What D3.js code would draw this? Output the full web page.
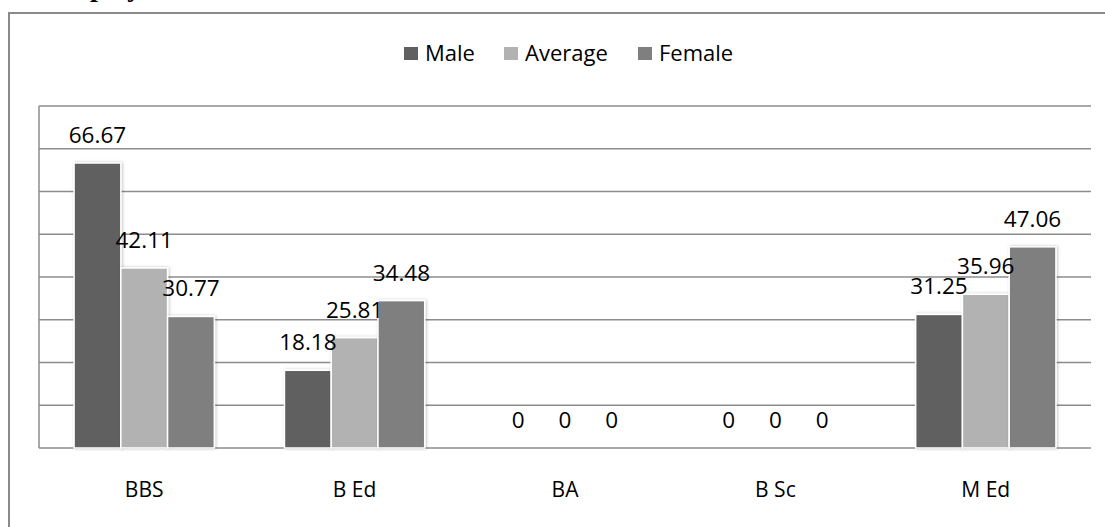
<!DOCTYPE html>
<html>
<head>
<meta charset="utf-8">
<script src="https://cdn.jsdelivr.net/npm/d3@7"></script>
<style>
  body { margin: 0; background: #fff; }
  text { font-family: "Open Sans", sans-serif; fill: #000; }
</style>
</head>
<body>
<div id="chart"></div>
<script>
// data
var categories = ["BBS", "B Ed", "BA", "B Sc", "M Ed"];
var seriesNames = ["Male", "Average", "Female"];
var male    = [66.67, 18.18, 0, 0, 31.25];
var average = [42.11, 25.81, 0, 0, 35.96];
var female  = [30.77, 34.48, 0, 0, 47.06];
var yTicks  = [0, 10, 20, 30, 40, 50, 60, 70, 80];

var colors = {Male: "#606060", Average: "#b2b2b2", Female: "#7f7f7f"};
var seriesValues = {Male: male, Average: average, Female: female};

// dimensions
var W = 1105, H = 527;
var margin = {top: 106, right: 14, bottom: 79, left: 39},
    width = W - margin.left - margin.right,
    height = H - margin.top - margin.bottom;

var svg = d3.select("#chart")
    .append("svg")
    .attr("width", W)
    .attr("height", H);

// drop shadow for bars
var defs = svg.append("defs");
var filter = defs.append("filter")
    .attr("id", "shadow")
    .attr("x", "-20%").attr("y", "-10%")
    .attr("width", "140%").attr("height", "120%");
filter.append("feDropShadow")
    .attr("dx", 1).attr("dy", 0)
    .attr("stdDeviation", 1.6)
    .attr("flood-color", "#000")
    .attr("flood-opacity", 0.25);

// heading of the page above, cut by the top edge
svg.append("text")
    .attr("x", 48)
    .attr("y", -4)
    .style("font-family", "'Liberation Serif', serif")
    .style("font-weight", "bold")
    .style("font-size", "28px")
    .text("Employment");

// outer frame
svg.append("rect")
    .attr("x", 9)
    .attr("y", 13)
    .attr("width", W + 20)
    .attr("height", H + 20)
    .attr("fill", "none")
    .attr("stroke", "#8a8a8a")
    .attr("stroke-width", 2);

var g = svg.append("g")
    .attr("transform", "translate(" + margin.left + "," + margin.top + ")");

// scales
var x0 = d3.scaleBand()
    .domain(categories)
    .range([0, width]);
var x1w = x0.bandwidth() / 4.5;
var x1 = d3.scaleBand()
    .domain(seriesNames)
    .range([(x0.bandwidth() - 3 * x1w) / 2, (x0.bandwidth() + 3 * x1w) / 2]);

var y = d3.scaleLinear()
    .domain([0, 80])
    .range([height, 0]);

// gridlines
g.append("g")
    .selectAll("line")
    .data(yTicks)
    .enter()
    .append("line")
    .attr("x1", 0)
    .attr("x2", width)
    .attr("y1", d => y(d))
    .attr("y2", d => y(d))
    .attr("stroke", "#8c8c8c")
    .attr("stroke-width", 1.5);

// y axis line
g.append("line")
    .attr("x1", 0).attr("x2", 0)
    .attr("y1", y(80)).attr("y2", y(0))
    .attr("stroke", "#8c8c8c")
    .attr("stroke-width", 1.5);

// bars
var groups = g.selectAll(".cat")
    .data(categories)
    .enter()
    .append("g")
    .attr("class", "cat")
    .attr("transform", d => "translate(" + x0(d) + ",0)");

groups.selectAll("rect")
    .data((c, i) => seriesNames.map(s => ({series: s, value: seriesValues[s][i]})))
    .enter()
    .append("rect")
    .filter(d => d.value > 0)
    .attr("x", d => x1(d.series))
    .attr("y", d => y(d.value))
    .attr("width", x1.bandwidth())
    .attr("height", d => y(0) - y(d.value))
    .attr("fill", d => colors[d.series])
    .attr("stroke", "#fff")
    .attr("stroke-width", 1.5)
    .attr("filter", "url(#shadow)");

// labels
groups.selectAll(".label")
    .data((c, i) => seriesNames.map(s => ({series: s, value: seriesValues[s][i]})))
    .enter()
    .append("text")
    .attr("class", "label")
    .attr("x", d => x1(d.series) + x1.bandwidth() / 2)
    .attr("y", d => y(d.value) - 20)
    .attr("text-anchor", "middle")
    .style("font-size", "22.5px")
    .text(d => d.value === 0 ? "0" : d.value.toFixed(2));

// x axis labels
g.selectAll(".xlabel")
    .data(categories)
    .enter()
    .append("text")
    .attr("class", "xlabel")
    .attr("x", d => x0(d) + x0.bandwidth() / 2)
    .attr("y", height + 49)
    .attr("text-anchor", "middle")
    .style("font-size", "21px")
    .text(d => d);

// legend
var legendX = [404, 504, 638];
var legend = svg.append("g");
seriesNames.forEach(function(s, i) {
    legend.append("rect")
        .attr("x", legendX[i])
        .attr("y", 47)
        .attr("width", 14)
        .attr("height", 13)
        .attr("fill", colors[s]);
    legend.append("text")
        .attr("x", legendX[i] + 21)
        .attr("y", 61)
        .style("font-size", "22px")
        .text(s);
});
</script>
</body>
</html>
